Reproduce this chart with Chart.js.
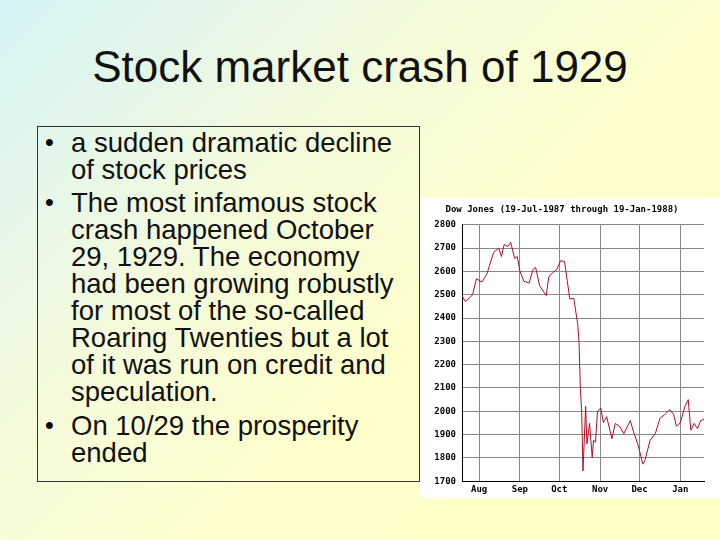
<!DOCTYPE html>
<html><head><meta charset="utf-8">
<script src="https://cdn.jsdelivr.net/npm/chart.js@4"></script>
<style>
body{margin:0;width:720px;height:540px;overflow:hidden;font-family:"Liberation Sans",Arial,sans-serif;
background:linear-gradient(135deg,#d6f3f6 0%,#f4fbdc 35%,#ffffcc 60%,#ffffc8 100%);position:relative}
#title{position:absolute;left:0;width:720px;top:42px;text-align:center;font-size:44px;color:#111}
#box{position:absolute;left:37px;top:126px;width:383px;height:356px;border:1px solid #333;box-sizing:border-box}
.l{position:absolute;left:33px;font-size:27.5px;color:#111;white-space:nowrap;line-height:27px}
.b{position:absolute;left:7px;font-size:25px;line-height:27px}
#img{position:absolute;left:420px;top:198px;width:300px;height:300px;background:#fff}
</style></head><body>
<div id="title">Stock market crash of 1929</div>
<div id="box">
<div class="b" style="top:2px">•</div>
<div class="l" style="top:2px">a sudden dramatic decline</div>
<div class="l" style="top:29px">of stock prices</div>
<div class="b" style="top:62px">•</div>
<div class="l" style="top:62px">The most infamous stock</div>
<div class="l" style="top:89px">crash happened October</div>
<div class="l" style="top:116px">29, 1929. The economy</div>
<div class="l" style="top:143px">had been growing robustly</div>
<div class="l" style="top:170px">for most of the so-called</div>
<div class="l" style="top:197px">Roaring Twenties but a lot</div>
<div class="l" style="top:224px">of it was run on credit and</div>
<div class="l" style="top:251px">speculation.</div>
<div class="b" style="top:285px">•</div>
<div class="l" style="top:285px">On 10/29 the prosperity</div>
<div class="l" style="top:312px">ended</div>
</div>
<div id="img"><canvas id="c" width="300" height="300"></canvas></div>
<script>
const chartTitle = "Dow Jones (19-Jul-1987 through 19-Jan-1988)";
const days = [0,2.5,6,8,11,15,19,21,24,28,30,32,35,37,40,42,44,47,51,54,56,59,64,66,68,72,75,78,80,82,85,88,89,90,91,92,94,95,97,99,100,101.5,103,105.5,107.5,110,114,116.5,120,123,128,130,134,137.5,139,143,147,150.5,154,158,161,163,166,169.5,172,174,176.5,179,181.5,184];
const values = [2496,2471,2488,2500,2569,2554,2590,2627,2681,2700,2664,2715,2707,2725,2656,2664,2602,2558,2550,2608,2617,2539,2496,2576,2590,2608,2646,2642,2561,2481,2485,2372,2296,2097,1995,1744,2021,1860,1948,1802,1875,1868,1999,2014,1951,1977,1882,1948,1934,1904,1960,1919,1853,1773,1788,1875,1904,1970,1985,2007,1985,1936,1951,2021,2050,1919,1948,1926,1960,1966];
const monthDays = [13,44,74,105,135,166];
const monthLabels = ["Aug","Sep","Oct","Nov","Dec","Jan"];
const font = {family:"DejaVu Sans Mono",size:9,weight:"bold"};
new Chart(document.getElementById('c'),{
 type:'line',
 data:{datasets:[{data:days.map((d,i)=>({x:d,y:values[i]})),borderColor:'#b0102a',borderWidth:1,pointRadius:0,tension:0}]},
 options:{responsive:false,animation:false,
  layout:{padding:{top:6,right:16,left:0,bottom:0}},
  plugins:{legend:{display:false},tooltip:{enabled:false},
   title:{display:true,text:chartTitle,color:'#000',font:font,padding:{top:0,bottom:10}}},
  scales:{
   x:{type:'linear',min:0,max:184,
    afterBuildTicks:a=>{a.ticks=monthDays.map(v=>({value:v}));},
    ticks:{color:'#000',font:font,autoSkip:false,maxRotation:0,callback:(v)=>monthLabels[monthDays.indexOf(v)]},
    grid:{color:'#888',borderDash:[1,2],drawTicks:false},border:{color:'#000'}},
   y:{min:1700,max:2800,afterFit:a=>{a.width=42;},
    ticks:{stepSize:100,color:'#000',font:font,padding:6,callback:v=>String(v)},
    grid:{color:'#888',borderDash:[1,2],drawTicks:false},border:{color:'#000'}}
  }}
});
</script>
</body></html>
